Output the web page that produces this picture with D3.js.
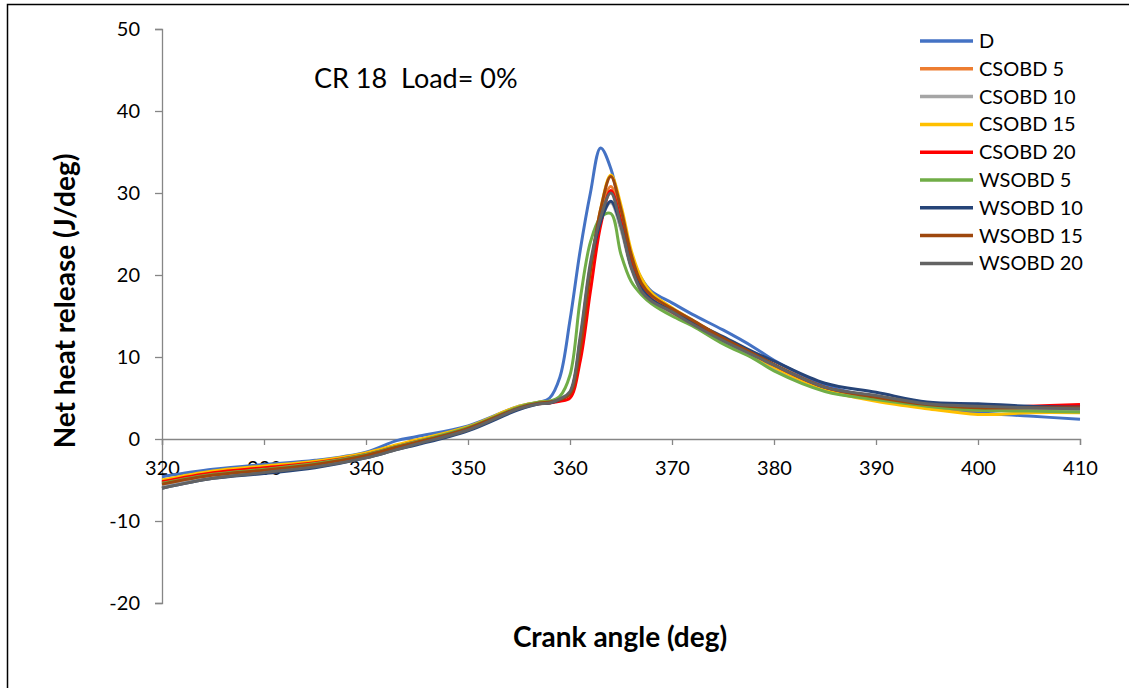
<!DOCTYPE html>
<html>
<head>
<meta charset="utf-8">
<script src="https://cdn.jsdelivr.net/npm/d3@7"></script>
<style>
  body { margin: 0; background: #fff; }
  text { font-family: Lato, "Open Sans", sans-serif; fill: #000; }
</style>
</head>
<body>
<div id="wrapper"></div>
<script>
// crank angle grid (deg)
const angles = [320, 325, 330, 335, 340, 343, 345, 350, 355, 357, 358, 359, 360, 361, 362, 363, 364, 365, 366, 367, 368, 370, 372, 375, 378, 380, 385, 390, 395, 400, 405, 410]

const seriesNames = ["D", "CSOBD 5", "CSOBD 10", "CSOBD 15", "CSOBD 20", "WSOBD 5", "WSOBD 10", "WSOBD 15", "WSOBD 20"]
const seriesColors = ["#4472C4", "#ED7D31", "#A5A5A5", "#FFC000", "#FF0000", "#70AD47", "#264478", "#9E480E", "#636363"]

// net heat release (J/deg)
const dValues =       [-4.6, -3.7, -3.1, -2.6, -1.6, -0.2, 0.3, 1.6, 4.0, 4.5, 5.0, 7.5, 14.5, 23.0, 30.0, 35.5, 33.0, 27.5, 22.5, 19.6, 18.0, 16.6, 15.2, 13.3, 11.2, 9.6, 6.6, 5.0, 4.0, 3.2, 2.8, 2.4]
const csobd5Values =  [-5.3, -4.2, -3.6, -3.0, -2.0, -0.9, -0.3, 1.4, 3.9, 4.4, 4.5, 4.8, 5.6, 11.5, 20.5, 27.5, 30.8, 27.0, 21.8, 18.6, 17.2, 15.8, 14.3, 12.3, 10.3, 9.0, 6.2, 5.0, 4.0, 3.5, 3.6, 3.6]
const csobd10Values = [-5.6, -4.5, -3.9, -3.2, -2.2, -1.1, -0.5, 1.2, 3.8, 4.4, 4.5, 4.8, 5.6, 11.5, 20.0, 26.5, 28.8, 25.5, 20.8, 18.0, 16.7, 15.3, 13.9, 11.8, 10.0, 8.6, 5.9, 4.8, 4.0, 3.6, 3.5, 3.5]
const csobd15Values = [-5.0, -3.9, -3.3, -2.7, -1.7, -0.7, -0.1, 1.5, 4.0, 4.5, 4.6, 4.8, 5.5, 11.0, 20.0, 28.0, 32.2, 28.5, 23.0, 19.6, 17.8, 16.0, 14.5, 12.3, 10.2, 8.8, 6.0, 4.6, 3.7, 3.0, 3.2, 3.2]
const csobd20Values = [-5.2, -4.1, -3.5, -2.9, -1.9, -0.9, -0.3, 1.3, 3.8, 4.3, 4.4, 4.6, 5.0, 9.5, 18.0, 26.0, 30.3, 26.5, 21.5, 18.5, 17.0, 15.5, 14.0, 12.2, 10.3, 9.0, 6.3, 5.2, 4.3, 3.9, 4.0, 4.2]
const wsobd5Values =  [-5.4, -4.3, -3.7, -3.0, -1.9, -0.9, -0.3, 1.4, 3.9, 4.5, 4.6, 5.2, 7.8, 17.0, 24.0, 27.0, 27.5, 22.5, 19.2, 17.6, 16.5, 15.0, 13.8, 11.6, 9.8, 8.3, 5.8, 4.8, 4.0, 3.5, 3.4, 3.3]
const wsobd10Values = [-6.0, -4.8, -4.2, -3.5, -2.3, -1.3, -0.7, 1.0, 3.6, 4.3, 4.4, 4.8, 5.6, 12.0, 21.0, 26.5, 29.0, 26.0, 21.0, 18.3, 17.0, 15.6, 14.3, 12.5, 10.6, 9.5, 6.8, 5.7, 4.5, 4.3, 4.0, 3.9]
const wsobd15Values = [-5.5, -4.4, -3.8, -3.1, -2.0, -1.0, -0.4, 1.3, 3.8, 4.4, 4.5, 4.8, 5.5, 11.0, 20.5, 28.0, 32.0, 28.0, 22.5, 19.0, 17.5, 15.9, 14.5, 12.3, 10.4, 9.1, 6.3, 5.1, 4.2, 3.8, 3.8, 3.8]
const wsobd20Values = [-6.0, -4.8, -4.1, -3.4, -2.3, -1.3, -0.6, 1.1, 3.7, 4.3, 4.4, 4.9, 5.8, 12.5, 21.5, 27.0, 30.0, 26.0, 21.0, 18.0, 16.8, 15.5, 14.0, 12.0, 10.2, 9.0, 6.3, 5.3, 4.3, 4.0, 3.8, 3.7]

const allValues = [dValues, csobd5Values, csobd10Values, csobd15Values, csobd20Values, wsobd5Values, wsobd10Values, wsobd15Values, wsobd20Values]

const xTicks = [320, 330, 340, 350, 360, 370, 380, 390, 400, 410]
const yTicks = [-20, -10, 0, 10, 20, 30, 40, 50]

function drawChart() {
    const dimensions = {
        width: 1129,
        height: 688,
        margin: { top: 29, right: 49, bottom: 85, left: 162 },
    }
    dimensions.boundedWidth = dimensions.width - dimensions.margin.left - dimensions.margin.right
    dimensions.boundedHeight = dimensions.height - dimensions.margin.top - dimensions.margin.bottom

    const wrapper = d3.select("#wrapper")
        .append("svg")
        .attr("width", dimensions.width)
        .attr("height", dimensions.height)

    wrapper.append("rect")
        .attr("width", dimensions.width)
        .attr("height", dimensions.height)
        .attr("fill", "#fff")

    // outer frame (right/bottom edges fall off the picture)
    wrapper.append("rect")
        .attr("x", 7.5)
        .attr("y", 4.5)
        .attr("width", 1140)
        .attr("height", 700)
        .attr("fill", "none")
        .attr("stroke", "#000")
        .attr("stroke-width", 1.5)

    const bounds = wrapper.append("g")
        .attr("transform", `translate(${dimensions.margin.left},${dimensions.margin.top})`)

    const xScale = d3.scaleLinear()
        .domain([320, 410])
        .range([0, dimensions.boundedWidth])
    const yScale = d3.scaleLinear()
        .domain([-20, 50])
        .range([dimensions.boundedHeight, 0])

    // plain hyphen for negatives, like the original
    const plain = d => String(d)

    // y axis
    const yAxis = bounds.append("g")
        .call(d3.axisLeft(yScale).tickValues(yTicks).tickFormat(plain).tickSize(7).tickPadding(15))
    yAxis.selectAll("path, line").attr("stroke", "#868686").attr("stroke-width", 1.3)
    yAxis.selectAll("text").style("font-size", "20px").style("font-family", "Lato, sans-serif")

    // x axis crossing at y = 0
    const xAxis = bounds.append("g")
        .attr("transform", `translate(0,${yScale(0)})`)
        .call(d3.axisBottom(xScale).tickValues(xTicks).tickFormat(plain).tickSize(6).tickPadding(16).tickSizeOuter(6))
    xAxis.selectAll("path, line").attr("stroke", "#868686").attr("stroke-width", 1.3)
    xAxis.selectAll("text").style("font-size", "20px").style("font-family", "Lato, sans-serif")

    const lineGen = d3.line()
        .x((d, i) => xScale(angles[i]))
        .y(d => yScale(d))
        .curve(d3.curveCatmullRom.alpha(0.5))

    bounds.append("g")
        .selectAll("path")
        .data(allValues)
        .join("path")
        .attr("d", lineGen)
        .attr("fill", "none")
        .attr("stroke", (d, i) => seriesColors[i])
        .attr("stroke-width", 3)
        .attr("stroke-linejoin", "round")

    // legend
    const legend = wrapper.append("g")
        .attr("transform", "translate(920,41)")
    const items = legend.selectAll("g")
        .data(seriesNames)
        .join("g")
        .attr("transform", (d, i) => `translate(0,${i * 27.8})`)
    items.append("line")
        .attr("x1", 0).attr("x2", 53)
        .attr("stroke", (d, i) => seriesColors[i])
        .attr("stroke-width", 3.5)
    items.append("text")
        .attr("x", 59)
        .attr("dy", "0.35em")
        .style("font-size", "20px")
        .text(d => d)

    // annotation
    wrapper.append("text")
        .attr("x", 314)
        .attr("y", 88)
        .style("font-size", "27px")
        .style("white-space", "pre")
        .text("CR 18  Load= 0%")

    // axis titles
    wrapper.append("text")
        .attr("x", 620)
        .attr("y", 647)
        .attr("text-anchor", "middle")
        .style("font-size", "28px")
        .style("font-weight", "bold")
        .text("Crank angle (deg)")

    wrapper.append("text")
        .attr("transform", "translate(75,301) rotate(-90)")
        .attr("text-anchor", "middle")
        .style("font-size", "28px")
        .style("font-weight", "bold")
        .text("Net heat release (J/deg)")
}

drawChart()
</script>
</body>
</html>
